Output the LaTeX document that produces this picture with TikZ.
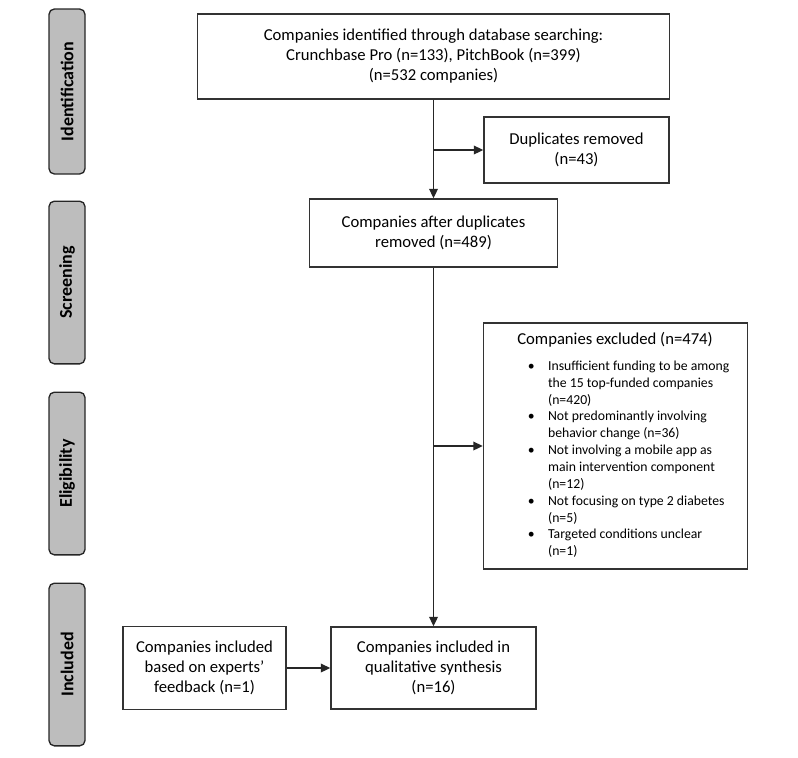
\documentclass[tikz,border=0pt]{standalone}
\usepackage{fontspec}
\setmainfont{Carlito}
\usetikzlibrary{positioning,arrows.meta}

\begin{document}
\begin{tikzpicture}[x=0.75pt, y=-0.75pt,
    box/.style={draw=black!80, line width=1.2pt, fill=white, align=center,%
      inner sep=2pt, font=\fontsize{12.5}{15}\selectfont},
    phase/.style={draw=black!85, line width=1pt, fill=black!26,%
      rounded corners=4pt, rotate=90, minimum width=122pt,%
      minimum height=27pt, font=\bfseries\fontsize{13.5}{15}\selectfont},
    flow/.style={line width=1pt, draw=black!85,%
      -{Triangle[length=7pt, width=6.5pt]}}]
          \useasboundingbox (0, 0) rectangle (798, 757);%
          % phases on the left
          \node [phase, minimum width=123.75pt] (identPhase) at (67, 91.5) {Identification};%
          \node [phase] (screenPhase) at (67, 282.5) {Screening};%
          \node [phase] (eligPhase) at (67, 473.5) {Eligibility};%
          \node [phase] (inclPhase) at (67, 664.5) {Included};%
          % flow boxes
          \node [box, minimum width=354pt, minimum height=63.75pt] (ident) at (433.5, 56.5) {%
            Companies identified through database searching:\\%
            Crunchbase Pro (n=133), PitchBook (n=399)\\%
            (n=532 companies)};%
          \node [box, minimum width=138.75pt, minimum height=49.5pt] (dup) at (576.5, 150) {%
            Duplicates removed\\%
            (n=43)};%
          \node [box, minimum width=186pt, minimum height=51pt] (screen) at (433.5, 233) {%
            Companies after duplicates\\%
            removed (n=489)};%
          \node [box, minimum width=198pt, minimum height=184.5pt] (excl) at (615.5, 446) {};%
          \node [anchor=north west, inner sep=0pt, align=left,%
            font=\fontsize{12.5}{15}\selectfont] (exclText) at (517, 332) {%
            Companies excluded (n=474)\\[7.5pt]%
            {\fontsize{10.3}{12.65}\selectfont%
            \begin{tabular}{@{\hspace{8pt}}l@{\hspace{10pt}}l@{}}%
              \textbullet & Insufficient funding to be among\\%
                          & the 15 top-funded companies\\%
                          & (n=420)\\%
              \textbullet & Not predominantly involving\\%
                          & behavior change (n=36)\\%
              \textbullet & Not involving a mobile app as\\%
                          & main intervention component\\%
                          & (n=12)\\%
              \textbullet & Not focusing on type 2 diabetes\\%
                          & (n=5)\\%
              \textbullet & Targeted conditions unclear\\%
                          & (n=1)%
            \end{tabular}}};%
          \node [box, minimum width=122.25pt, minimum height=62.25pt] (experts) at (204.5, 668) {%
            Companies included\\%
            based on experts'\\%
            feedback (n=1)};%
          \node [box, minimum width=153.75pt, minimum height=61.5pt] (incl) at (433.5, 668) {%
            Companies included in\\%
            qualitative synthesis\\%
            (n=16)};%
          % connectors
          \draw [flow] (ident.south) -- (screen.north);%
          \draw [flow] (ident.south |- dup.west) -- (dup.west);%
          \draw [flow] (screen.south) -- (incl.north);%
          \draw [flow] (screen.south |- excl.west) -- (excl.west);%
          \draw [flow] (experts.east) -- (incl.west);%
        \end{tikzpicture}
\end{document}
